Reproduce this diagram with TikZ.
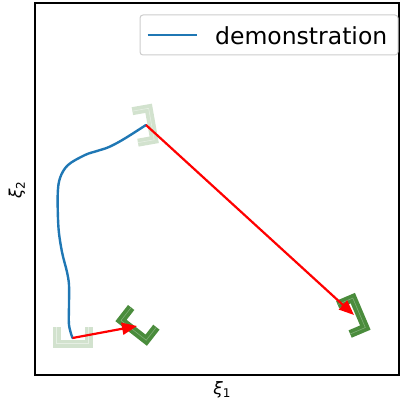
\documentclass[tikz,border=0pt]{standalone}
\usepackage{fontspec}
\setmainfont{DejaVu Sans}
\usepackage{xcolor}
\usetikzlibrary{arrows.meta,positioning}

\definecolor{demoblue}{HTML}{1F77B4}
\definecolor{gripgreen}{HTML}{4A8C3C}

\tikzset{
    pics/gripper/.style args={#1/#2}{code={
        \draw[line width=8pt, line join=miter, #1] (-16,-11) -- (-16,5.5) -- (16,5.5) -- (16,-11);
        \draw[line width=0.6pt, line join=miter, #2] (-16,-11) -- (-16,5.5) -- (16,5.5) -- (16,-11);
        \coordinate (-c) at (0,0);
    }}
}

\begin{document}
\begin{tikzpicture}[
    x=1pt, y=-1pt,
    demo/.style={demoblue, line width=2.4pt, line cap=round},
    move/.style={red, line width=2.2pt, -{Triangle[length=15pt, width=12pt]}},
    faded/.style={gripgreen!25!white},
    fadedline/.style={gripgreen!14!white},
    goal/.style={gripgreen},
    goalline/.style={gripgreen!70!white},
    axlabel/.style={font=\fontsize{17}{19}\selectfont},
]
    \useasboundingbox (0,0) rectangle (400,404);
    \draw[line width=1.1pt] (35,3) rectangle (399,375);

    % grippers
    \pic (start) at (72.5,338) {gripper=faded/fadedline};
    \pic[rotate=100] (via) at (146,125) {gripper=faded/fadedline};
    \pic[rotate=-38] (goalA) at (137,326) {gripper=goal/goalline};
    \pic[rotate=113] (goalB) at (354,315) {gripper=goal/goalline};

    % demonstration
    \draw[demo] plot[smooth, tension=0.55] coordinates {(start-c) (69,325) (69,305) (69,285) (67,272) (62,252) (58.5,228) (57.7,195) (60,178) (68,165) (85,155) (97,151) (109,147) (124,139) (via-c)};

    % offsets
    \draw[move] (start-c) -- (goalA-c);
    \draw[move] (via-c) -- (goalB-c);

    % legend
    \node[draw=black!20, line width=1pt, rounded corners=3pt, minimum width=258pt, minimum height=40pt] (legend) at (269,35) {};
    \coordinate[right=8pt of legend.west] (legline);
    \draw[demo, line cap=butt] (legline) -- ++(49,0);
    \node[anchor=west, inner sep=0, font=\fontsize{23.5}{26}\selectfont] (legtext) at (215,36) {demonstration};

    % axis labels
    \node[axlabel] (xlab) at (222,390) {\itshape ξ\raisebox{-0.35ex}{\upshape\fontsize{12}{14}\selectfont 1}};
    \node[axlabel, rotate=90] (ylab) at (17,190) {\itshape ξ\raisebox{-0.35ex}{\upshape\fontsize{12}{14}\selectfont 2}};
\end{tikzpicture}
\end{document}
